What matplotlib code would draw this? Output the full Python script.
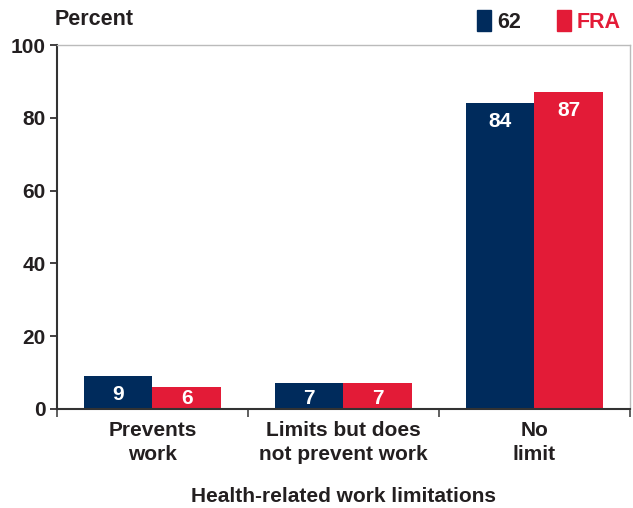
import numpy as np
import matplotlib
matplotlib.use("Agg")
import matplotlib.pyplot as plt

# data
categories = ["Prevents\nwork", "Limits but does\nnot prevent work", "No\nlimit"]
age62 = [9, 7, 84]
fra = [6, 7, 87]
series_names = ["62", "FRA"]

navy = "#002B5C"
red = "#E31B37"
txt = "#231F20"

plt.rcParams["font.family"] = ["Liberation Sans", "DejaVu Sans"]
plt.rcParams["font.weight"] = "bold"

fig = plt.figure(figsize=(6.33, 5.08), dpi=100)
ax = fig.add_axes([0.090, 0.195, 0.905, 0.716])

x = np.arange(len(categories))
w = 0.36
b1 = ax.bar(x - w / 2, age62, w, color=navy)
b2 = ax.bar(x + w / 2, fra, w, color=red)

# value labels just under bar tops (kept inside short bars)
for bars, vals in [(b1, age62), (b2, fra)]:
    for rect, v in zip(bars, vals):
        ax.text(rect.get_x() + rect.get_width() / 2, max(v - 4.9, 3.0), str(v),
                ha="center", va="center", color="white",
                fontsize=15, fontweight="bold")

ax.set_xlim(-0.5, 2.5)
ax.set_ylim(0, 100)
ax.set_yticks([0, 20, 40, 60, 80, 100])
ax.tick_params(axis="y", labelsize=15, colors=txt, length=5, width=1.2, pad=3)

# category labels centred, ticks at boundaries
ax.set_xticks([-0.5, 0.5, 1.5, 2.5])
ax.set_xticklabels([])
ax.set_xticks(x, minor=True)
ax.set_xticklabels(categories, minor=True, fontsize=15, color=txt, linespacing=1.3)
ax.tick_params(axis="x", which="major", length=6, width=1.2, color="#444444")
ax.tick_params(axis="x", which="minor", length=0, pad=9)

for s in ["left", "bottom"]:
    ax.spines[s].set_color("#333333")
    ax.spines[s].set_linewidth(1.5)
for s in ["top", "right"]:
    ax.spines[s].set_color("#BBBBBB")
    ax.spines[s].set_linewidth(1.0)

fig.text(0.542, 0.022, "Health-related work limitations", fontsize=15, color=txt,
         ha="center", va="center")

fig.text(0.087, 0.962, "Percent", fontsize=15.5, color=txt, ha="left", va="center")

# legend drawn by hand like the original
fig.patches.append(plt.Rectangle((0.754, 0.938), 0.022, 0.042, color=navy,
                                 transform=fig.transFigure, figure=fig))
fig.text(0.785, 0.956, series_names[0], fontsize=15.5, color=txt, ha="left", va="center")
fig.patches.append(plt.Rectangle((0.880, 0.938), 0.022, 0.042, color=red,
                                 transform=fig.transFigure, figure=fig))
fig.text(0.911, 0.956, series_names[1], fontsize=15.5, color=red, ha="left", va="center")

fig.savefig("out.png", dpi=100)
